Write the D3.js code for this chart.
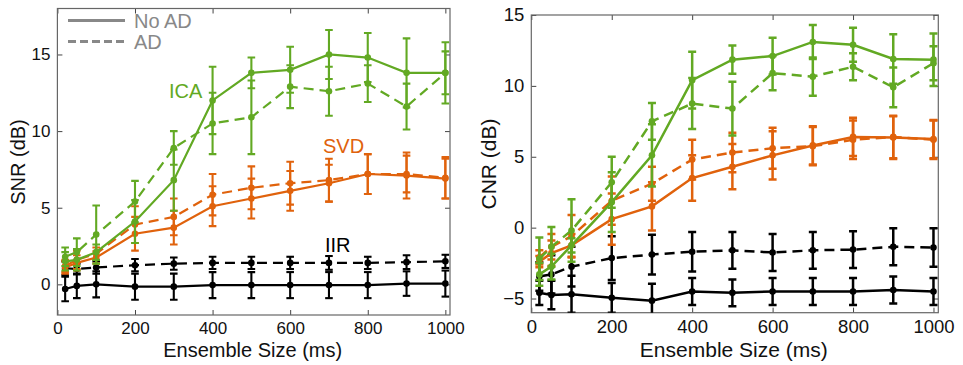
<!DOCTYPE html>
<html>
<head>
<meta charset="utf-8">
<script src="https://cdn.jsdelivr.net/npm/d3@7"></script>
<style>
  body { margin: 0; background: #fff; }
  svg { font-family: "Liberation Sans", Arial, Helvetica, sans-serif; }
</style>
</head>
<body>
<div id="chart"></div>
<script>
var ensemble_sizes = [20, 50, 100, 200, 300, 400, 500, 600, 700, 800, 900, 1000];

// SNR panel
var ica_snr_no_ad     = [1.5, 1.6, 2.1, 4.1, 6.8, 12.0, 13.8, 14.0, 15.0, 14.8, 13.8, 13.8];
var ica_snr_no_ad_err = [0.6, 0.7, 0.5, 1.4, 2.0, 2.2, 1.0, 1.5, 1.6, 1.6, 2.25, 2.0];
var ica_snr_ad        = [1.8, 2.1, 3.25, 5.4, 8.9, 10.5, 10.9, 12.9, 12.6, 13.1, 11.6, 13.8];
var ica_snr_ad_err    = [0.6, 0.9, 1.9, 1.35, 1.1, 2.0, 2.4, 1.4, 1.6, 1.2, 1.5, 1.4];
var svd_snr_no_ad     = [1.1, 1.4, 1.75, 3.3, 3.7, 5.1, 5.6, 6.1, 6.6, 7.2, 7.1, 6.9];
var svd_snr_no_ad_err = [0.4, 0.5, 0.4, 1.1, 1.1, 1.3, 1.3, 1.3, 1.2, 1.3, 1.5, 1.3];
var svd_snr_ad        = [1.2, 1.6, 2.0, 3.9, 4.4, 5.85, 6.3, 6.6, 6.8, 7.2, 7.2, 6.95];
var svd_snr_ad_err    = [0.4, 0.6, 0.4, 1.2, 1.2, 1.35, 1.4, 1.4, 1.4, 1.3, 1.2, 1.35];
var iir_snr_no_ad     = [-0.3, -0.1, 0.0, -0.15, -0.15, -0.05, -0.05, -0.05, -0.05, -0.05, 0.05, 0.05];
var iir_snr_no_ad_err = [0.8, 0.8, 0.85, 0.85, 0.85, 0.85, 0.85, 0.85, 0.85, 0.85, 0.8, 0.85];
var iir_snr_ad        = [1.05, 1.0, 1.1, 1.25, 1.35, 1.4, 1.4, 1.4, 1.4, 1.4, 1.45, 1.5];
var iir_snr_ad_err    = [0.45, 0.35, 0.4, 0.4, 0.4, 0.4, 0.4, 0.4, 0.45, 0.4, 0.45, 0.43];

// CNR panel
var ica_cnr_no_ad     = [-3.3, -2.75, -1.25, 1.8, 5.1, 10.4, 11.85, 12.1, 13.1, 12.9, 11.9, 11.85];
var ica_cnr_no_ad_err = [0.8, 0.9, 0.5, 2.1, 2.2, 2.0, 1.0, 1.3, 1.2, 1.2, 1.75, 1.85];
var ica_cnr_ad        = [-2.2, -1.35, -0.2, 3.2, 7.5, 8.75, 8.4, 10.9, 10.65, 11.35, 9.9, 11.6];
var ica_cnr_ad_err    = [1.5, 1.4, 2.2, 1.8, 1.3, 1.8, 1.9, 1.2, 1.35, 0.95, 1.4, 1.2];
var svd_cnr_no_ad     = [-2.4, -1.8, -1.25, 0.6, 1.5, 3.5, 4.3, 5.1, 5.8, 6.4, 6.35, 6.25];
var svd_cnr_no_ad_err = [0.4, 0.9, 0.8, 1.8, 1.7, 1.6, 1.6, 1.7, 1.35, 1.35, 1.5, 1.35];
var svd_cnr_ad        = [-2.1, -1.35, -0.6, 1.9, 3.1, 4.8, 5.3, 5.6, 5.75, 6.2, 6.4, 6.2];
var svd_cnr_ad_err    = [0.5, 0.9, 1.5, 1.7, 1.2, 1.4, 1.4, 1.45, 1.35, 1.35, 1.5, 1.35];
var iir_cnr_no_ad     = [-4.6, -4.75, -4.7, -4.95, -5.15, -4.5, -4.6, -4.5, -4.5, -4.5, -4.4, -4.5];
var iir_cnr_no_ad_err = [0.85, 1.0, 1.3, 1.05, 1.2, 0.95, 0.95, 0.95, 0.95, 0.95, 0.95, 0.95];
var iir_cnr_ad        = [-3.45, -3.3, -2.75, -2.15, -1.9, -1.7, -1.6, -1.75, -1.6, -1.55, -1.35, -1.4];
var iir_cnr_ad_err    = [1.0, 1.35, 1.4, 1.55, 1.4, 1.4, 1.3, 1.3, 1.3, 1.3, 1.3, 1.35];

var x_ticks_all = [0, 200, 400, 600, 800, 1000];
var y_ticks_snr = [0, 5, 10, 15];
var y_ticks_cnr = [-5, 0, 5, 10, 15];

var color_ica = "#62a923";
var color_svd = "#e0620c";
var color_iir = "#000000";

var svg = d3.select("#chart").append("svg")
  .attr("width", 963)
  .attr("height", 365);

function draw_panel (cfg) {
  var x = d3.scaleLinear().domain([0, 1012]).range([cfg.left, cfg.right]);
  var y = d3.scaleLinear().domain(cfg.y_domain).range([cfg.bottom, cfg.top]);

  var clip_id = "clip_" + cfg.id;
  svg.append("clipPath").attr("id", clip_id)
    .append("rect")
    .attr("x", cfg.left).attr("y", cfg.top)
    .attr("width", cfg.right - cfg.left).attr("height", cfg.bottom - cfg.top);

  // axes, ticks inside like matlab
  var tick_style = function (g) {
    g.select(".domain").remove();
    g.selectAll(".tick line").attr("stroke", "#444").attr("stroke-width", 1);
    g.selectAll(".tick text").attr("fill", "#111").style("font-size", cfg.tick_font + "px");
  };
  svg.append("g")
    .attr("transform", "translate(0," + cfg.bottom + ")")
    .call(d3.axisBottom(x).tickValues(x_ticks_all).tickSizeInner(-5).tickSizeOuter(0).tickPadding(7)
      .tickFormat(d3.format("d")))
    .call(tick_style);
  svg.append("g")
    .attr("transform", "translate(0," + cfg.top + ")")
    .call(d3.axisTop(x).tickValues(x_ticks_all).tickSizeInner(-5).tickSizeOuter(0).tickFormat(""))
    .call(tick_style);
  svg.append("g")
    .attr("transform", "translate(" + cfg.left + ",0)")
    .call(d3.axisLeft(y).tickValues(cfg.y_ticks).tickSizeInner(-5).tickSizeOuter(0).tickPadding(7)
      .tickFormat(function (d) { return d < 0 ? "\u2212" + Math.abs(d) : d; }))
    .call(tick_style);
  svg.append("g")
    .attr("transform", "translate(" + cfg.right + ",0)")
    .call(d3.axisRight(y).tickValues(cfg.y_ticks).tickSizeInner(-5).tickSizeOuter(0).tickFormat(""))
    .call(tick_style);

  svg.append("rect")
    .attr("x", cfg.left).attr("y", cfg.top)
    .attr("width", cfg.right - cfg.left).attr("height", cfg.bottom - cfg.top)
    .attr("fill", "none").attr("stroke", "#666").attr("stroke-width", 1.2);

  var plot = svg.append("g").attr("clip-path", "url(#" + clip_id + ")");

  var line = d3.line()
    .x(function (d) { return x(d.x); })
    .y(function (d) { return y(d.y); });

  cfg.series.forEach(function (s) {
    var pts = ensemble_sizes.map(function (v, i) {
      return { x: v, y: s.values[i], e: s.errors[i] };
    });
    var g = plot.append("g");
    var bars = g.selectAll("g.bar").data(pts).enter().append("g").attr("class", "bar")
      .attr("stroke", s.color).attr("stroke-width", cfg.bar_width);
    bars.append("line")
      .attr("x1", function (d) { return x(d.x); }).attr("x2", function (d) { return x(d.x); })
      .attr("y1", function (d) { return y(d.y - d.e); }).attr("y2", function (d) { return y(d.y + d.e); });
    bars.append("line")
      .attr("x1", function (d) { return x(d.x) - cfg.cap; }).attr("x2", function (d) { return x(d.x) + cfg.cap; })
      .attr("y1", function (d) { return y(d.y + d.e); }).attr("y2", function (d) { return y(d.y + d.e); });
    bars.append("line")
      .attr("x1", function (d) { return x(d.x) - cfg.cap; }).attr("x2", function (d) { return x(d.x) + cfg.cap; })
      .attr("y1", function (d) { return y(d.y - d.e); }).attr("y2", function (d) { return y(d.y - d.e); });
    g.append("path")
      .datum(pts)
      .attr("d", line)
      .attr("fill", "none")
      .attr("stroke", s.color)
      .attr("stroke-width", cfg.line_width)
      .attr("stroke-dasharray", s.dashed ? "10,6" : null);
    g.selectAll("circle").data(pts).enter().append("circle")
      .attr("cx", function (d) { return x(d.x); })
      .attr("cy", function (d) { return y(d.y); })
      .attr("r", 3.3)
      .attr("fill", s.color);
  });

  svg.append("text")
    .attr("x", (cfg.left + cfg.right) / 2 - 1)
    .attr("y", 357)
    .attr("text-anchor", "middle")
    .style("font-size", cfg.label_font + "px")
    .attr("fill", "#111")
    .text("Ensemble Size (ms)");
  svg.append("text")
    .attr("transform", "translate(" + cfg.ylabel_x + "," + cfg.ylabel_y + ") rotate(-90)")
    .attr("text-anchor", "middle")
    .style("font-size", cfg.label_font + "px")
    .attr("fill", "#111")
    .text(cfg.ylabel);
}

draw_panel({
  id: "snr", left: 57.4, right: 450, top: 8.5, bottom: 315,
  y_domain: [-2, 18], y_ticks: y_ticks_snr,
  tick_font: 17, label_font: 20, ylabel: "SNR (dB)", ylabel_x: 25, ylabel_y: 162,
  line_width: 2.2, bar_width: 2.1, cap: 3.8,
  series: [
    { values: iir_snr_no_ad, errors: iir_snr_no_ad_err, color: color_iir, dashed: false },
    { values: iir_snr_ad, errors: iir_snr_ad_err, color: color_iir, dashed: true },
    { values: svd_snr_no_ad, errors: svd_snr_no_ad_err, color: color_svd, dashed: false },
    { values: svd_snr_ad, errors: svd_snr_ad_err, color: color_svd, dashed: true },
    { values: ica_snr_no_ad, errors: ica_snr_no_ad_err, color: color_ica, dashed: false },
    { values: ica_snr_ad, errors: ica_snr_ad_err, color: color_ica, dashed: true }
  ]
});

draw_panel({
  id: "cnr", left: 531.3, right: 938.3, top: 15, bottom: 312.7,
  y_domain: [-6, 15], y_ticks: y_ticks_cnr,
  tick_font: 18.5, label_font: 21, ylabel: "CNR (dB)", ylabel_x: 496, ylabel_y: 164,
  line_width: 2.5, bar_width: 2.5, cap: 4,
  series: [
    { values: iir_cnr_no_ad, errors: iir_cnr_no_ad_err, color: color_iir, dashed: false },
    { values: iir_cnr_ad, errors: iir_cnr_ad_err, color: color_iir, dashed: true },
    { values: svd_cnr_no_ad, errors: svd_cnr_no_ad_err, color: color_svd, dashed: false },
    { values: svd_cnr_ad, errors: svd_cnr_ad_err, color: color_svd, dashed: true },
    { values: ica_cnr_no_ad, errors: ica_cnr_no_ad_err, color: color_ica, dashed: false },
    { values: ica_cnr_ad, errors: ica_cnr_ad_err, color: color_ica, dashed: true }
  ]
});

// legend and method labels (left panel only)
var legend = svg.append("g");
legend.append("line").attr("x1", 68).attr("x2", 125).attr("y1", 20.5).attr("y2", 20.5)
  .attr("stroke", "#888").attr("stroke-width", 3);
legend.append("line").attr("x1", 68).attr("x2", 125).attr("y1", 41.5).attr("y2", 41.5)
  .attr("stroke", "#888").attr("stroke-width", 3).attr("stroke-dasharray", "8,4");
legend.append("text").attr("x", 134).attr("y", 27.5).style("font-size", "20px").attr("fill", "#888").text("No AD");
legend.append("text").attr("x", 134).attr("y", 49).style("font-size", "20px").attr("fill", "#888").text("AD");

svg.append("text").attr("x", 169).attr("y", 98).style("font-size", "20px").attr("fill", color_ica).text("ICA");
svg.append("text").attr("x", 323).attr("y", 153).style("font-size", "20px").attr("fill", color_svd).text("SVD");
svg.append("text").attr("x", 325).attr("y", 252).style("font-size", "20px").attr("fill", color_iir).text("IIR");
</script>
</body>
</html>
